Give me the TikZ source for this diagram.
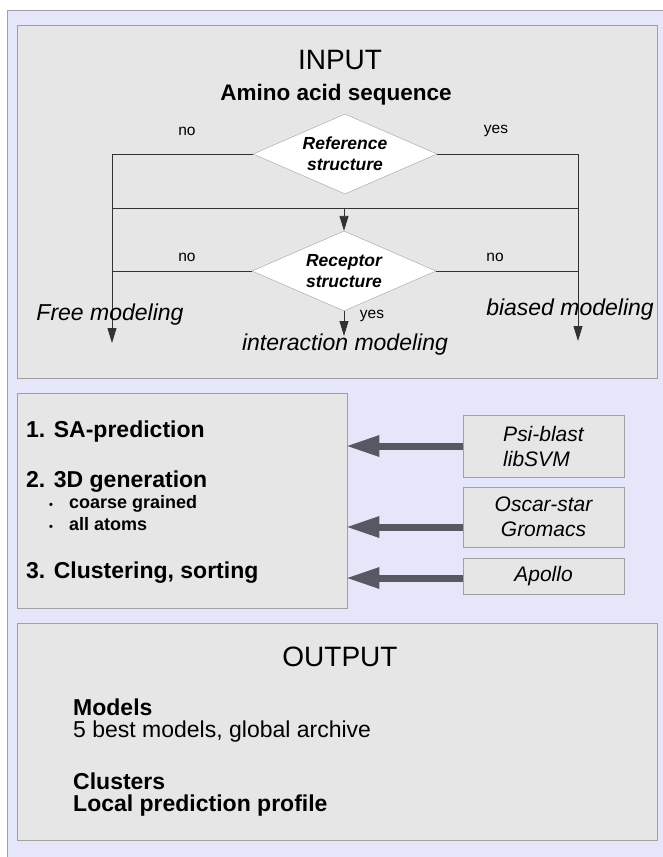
\documentclass[tikz,border=0pt]{standalone}
\usepackage{fontspec}
\setmainfont{Liberation Sans}
\usetikzlibrary{shapes.geometric,arrows.meta,positioning}
\definecolor{lavender}{RGB}{230,230,250}
\definecolor{boxgray}{RGB}{230,230,230}
\definecolor{framegray}{RGB}{160,160,160}
\definecolor{arrowgray}{RGB}{88,88,98}
\definecolor{linegray}{RGB}{50,50,50}
\tikzset{
  panel/.style={rectangle, draw=framegray, fill=boxgray, inner sep=0pt},
  toolbox/.style={panel, minimum width=161pt, align=center, font=\fontsize{21}{25}\selectfont\itshape},
  decision/.style={diamond, aspect=2.3, draw=framegray, fill=white, inner sep=0pt, minimum width=184pt, minimum height=80pt, align=center, font=\fontsize{17.5}{21}\selectfont\bfseries\itshape},
  titletext/.style={inner sep=0pt, font=\fontsize{28}{32}\selectfont},
  subtitletext/.style={inner sep=0pt, font=\fontsize{22.5}{26}\selectfont\bfseries},
  answer/.style={inner sep=0pt, font=\fontsize{15.5}{18}\selectfont},
  outcome/.style={inner sep=0pt, font=\fontsize{23}{27}\selectfont\itshape},
  stagetext/.style={inner sep=0pt, anchor=west, font=\fontsize{23}{27}\selectfont\bfseries},
  bullettext/.style={inner sep=0pt, anchor=west, font=\fontsize{18}{21}\selectfont\bfseries},
  resulttext/.style={inner sep=0pt, anchor=west, font=\fontsize{23}{27}\selectfont},
  flow/.style={draw=linegray, line width=0.9pt},
  flowarrow/.style={flow, -{Triangle[width=9pt,length=15pt]}},
  bigarrow/.style={draw=arrowgray, line width=7pt, -{Triangle[width=22pt,length=32pt,line width=0pt]}}
}
\newcommand{\itembullet}{\makebox[20pt][l]{\fontsize{11}{11}\selectfont\textbullet}}
\begin{document}
\begin{tikzpicture}[x=1pt, y=-1pt]
  \useasboundingbox (0,0) rectangle (663,857);
  \fill[white] (0,0) rectangle (663,857);
  \draw[draw=framegray, fill=lavender] (7,10) rectangle (680,880);

  % input panel
  \node[panel, minimum width=640pt, minimum height=353pt, anchor=north west] (inbox) at (17,25) {};
  \node[titletext] (intitle) at (340,60) {INPUT};
  \node[subtitletext] (amino) at (336,95) {Amino acid sequence};
  \node[decision] (refD) at (345,154) {Reference\\structure};
  \node[decision] (recD) at (344,271) {Receptor\\structure};

  \coordinate (lfttop) at (112,154);
  \coordinate (rgttop) at (578,154);
  \coordinate (lftend) at (112,343);
  \coordinate (rgtend) at (578,341);
  \coordinate (joinL) at (112,208);
  \coordinate (joinR) at (578,208);
  \coordinate (recL) at (112,271);
  \coordinate (recR) at (578,271);
  \coordinate (midend) at (344,336);

  \draw[flowarrow] (refD.west) -- (lfttop) -- (lftend);
  \draw[flowarrow] (refD.east) -- (rgttop) -- (rgtend);
  \draw[flow] (joinL) -- (joinR);
  \draw[flowarrow] (joinL -| recD) -- (recD.north);
  \draw[flow] (recD.west) -- (recL);
  \draw[flow] (recD.east) -- (recR);
  \draw[flowarrow] (recD.south) -- (midend);

  \node[answer] (noA) at (187,131) {no};
  \node[answer] (yesA) at (496,131) {yes};
  \node[answer] (noB) at (187,257) {no};
  \node[answer] (noC) at (495,257) {no};
  \node[answer] (yesB) at (372,316) {yes};
  \node[outcome] (free) at (110,315) {Free modeling};
  \node[outcome] (biased) at (570,310) {biased modeling};
  \node[outcome] (inter) at (345,345) {interaction modeling};

  % pipeline
  \node[panel, minimum width=330pt, minimum height=215pt, anchor=north west] (sabox) at (17,393) {};
  \node[stagetext] (sapred) at (26,432) {1. SA-prediction};
  \node[stagetext] (gen) at (26,482) {2. 3D generation};
  \node[bullettext] (coarse) at (49,504) {\itembullet coarse grained};
  \node[bullettext] (atoms) at (49,524) {\itembullet all atoms};
  \node[stagetext] (clust) at (26,573) {3. Clustering, sorting};

  \node[toolbox, minimum height=62pt, align=left] (psi) at (543.5,446) {Psi-blast\\libSVM};
  \node[toolbox, minimum height=60pt] (osc) at (543.5,517) {Oscar-star\\Gromacs};
  \node[toolbox, minimum height=36pt] (apo) at (543.5,576) {Apollo};

  \draw[bigarrow] (psi.west) -- (psi.west -| sabox.east);
  \draw[bigarrow] ([yshift=-10pt]osc.west) -- ([yshift=-10pt]osc.west -| sabox.east);
  \draw[bigarrow] ([yshift=-2pt]apo.west) -- ([yshift=-2pt]apo.west -| sabox.east);

  % output panel
  \node[panel, minimum width=640pt, minimum height=217pt, anchor=north west] (outbox) at (17,623) {};
  \node[titletext] (outtitle) at (340,657) {OUTPUT};
  \node[resulttext, font=\fontsize{23}{27}\selectfont\bfseries] (models) at (73,707) {Models};
  \node[resulttext] (best) at (73,732) {5 best models, global archive};
  \node[resulttext, font=\fontsize{23}{27}\selectfont\bfseries] (clusters) at (73,781) {Clusters};
  \node[resulttext, font=\fontsize{23}{27}\selectfont\bfseries] (profile) at (73,806) {Local prediction profile};
\end{tikzpicture}
\end{document}
